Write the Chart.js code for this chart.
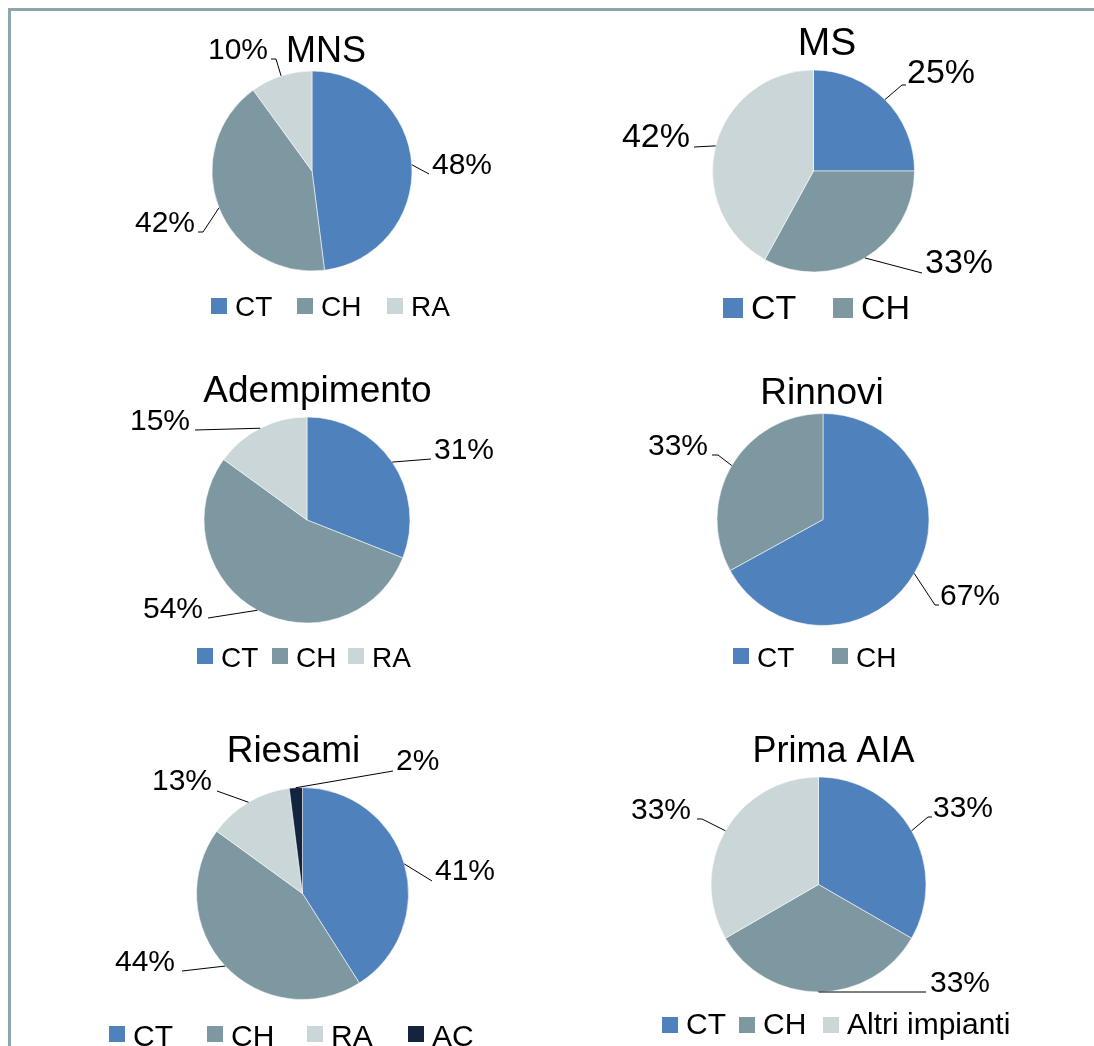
<!DOCTYPE html>
<html><head><meta charset="utf-8">
<script src="https://cdn.jsdelivr.net/npm/chart.js@4.4.0/dist/chart.umd.min.js"></script>
<style>
html,body{margin:0;padding:0;background:#fff;}
#wrap{position:relative;width:1094px;height:1046px;overflow:hidden;background:#fff;}
#frame{position:absolute;left:8px;top:8px;width:1200px;height:1200px;border-top:3px solid #8fa5ae;border-left:3px solid #8fa5ae;}
canvas{position:absolute;left:0;top:0;}
</style></head><body>
<div id="wrap"><div id="frame"></div>
<canvas id="c0" width="1094" height="1046"></canvas>
<canvas id="c1" width="1094" height="1046"></canvas>
<canvas id="c2" width="1094" height="1046"></canvas>
<canvas id="c3" width="1094" height="1046"></canvas>
<canvas id="c4" width="1094" height="1046"></canvas>
<canvas id="c5" width="1094" height="1046"></canvas>
</div>
<script>
// ---- data ----
const titles = ['MNS', 'MS', 'Adempimento', 'Rinnovi', 'Riesami', 'Prima AIA'];
const mnsLabels = ['CT', 'CH', 'RA'];
const mnsValues = [48, 42, 10];
const msLabels = ['CT', 'CH', 'RA'];
const msValues = [25, 33, 42];
const msLegendItems = ['CT', 'CH'];
const ademLabels = ['CT', 'CH', 'RA'];
const ademValues = [31, 54, 15];
const rinnLabels = ['CT', 'CH'];
const rinnValues = [67, 33];
const riesLabels = ['CT', 'CH', 'RA', 'AC'];
const riesValues = [41, 44, 13, 2];
const primaLabels = ['CT', 'CH', 'Altri impianti'];
const primaValues = [33, 33, 33];

// ---- styles ----
const COLORS = {CT: '#4f81bd', CH: '#7e98a1', RA: '#cbd6d9', AC: '#13253e', 'Altri impianti': '#cbd6d9'};
const FONT = '"Liberation Sans", Arial, sans-serif';
const W = 1094, H = 1046;

// ---- layout (positions only) ----
const layouts = [
  {labels: mnsLabels, values: mnsValues, legendItems: mnsLabels,
   cx: 312, cy: 171, r: 100, title: {x: 326, y: 62, size: 36},
   dl: {size: 30, items: [
     {x: 432, y: 174, align: 'left', path: [[429, 174]]},
     {x: 195, y: 232, align: 'right', path: [[203, 232], [198, 232]]},
     {x: 268, y: 59, align: 'right', path: [[276, 59], [271, 59]]}]},
   lg: {size: 28, box: 16, boxY: 298, textY: 316, gap: 8, xs: [211, 297, 387]}},
  {labels: msLabels, values: msValues, legendItems: msLegendItems,
   cx: 813.5, cy: 171, r: 101, title: {x: 827, y: 55, size: 39},
   dl: {size: 34, items: [
     {x: 907, y: 83, align: 'left', path: [[902, 85], [906, 85]]},
     {x: 925, y: 273, align: 'left', path: [[922, 273]]},
     {x: 690, y: 147, align: 'right', path: [[694, 147]]}]},
   lg: {size: 34, box: 20, boxY: 298, textY: 319, gap: 8, xs: [723, 833]}},
  {labels: ademLabels, values: ademValues, legendItems: ademLabels,
   cx: 307, cy: 520, r: 103, title: {x: 317.5, y: 402, size: 37},
   dl: {size: 30, items: [
     {x: 434, y: 459, align: 'left', path: [[431, 459]]},
     {x: 203, y: 618, align: 'right', path: [[208, 618]]},
     {x: 190, y: 430, align: 'right', path: [[195, 430]]}]},
   lg: {size: 28, box: 16, boxY: 648, textY: 667, gap: 8, xs: [197, 272, 348]}},
  {labels: rinnLabels, values: rinnValues, legendItems: rinnLabels,
   cx: 823, cy: 519.5, r: 106, title: {x: 822, y: 404, size: 37},
   dl: {size: 30, items: [
     {x: 940, y: 605, align: 'left', path: [[935, 605], [939, 605]]},
     {x: 708, y: 455, align: 'right', path: [[718, 455], [712, 455]]}]},
   lg: {size: 28, box: 16, boxY: 648, textY: 667, gap: 8, xs: [733, 832]}},
  {labels: riesLabels, values: riesValues, legendItems: riesLabels,
   cx: 302.5, cy: 893.5, r: 106, title: {x: 293.5, y: 762, size: 37},
   dl: {size: 30, items: [
     {x: 435, y: 880, align: 'left', path: [[432, 881]]},
     {x: 175, y: 971, align: 'right', path: [[182, 971]]},
     {x: 212, y: 790, align: 'right', path: [[217, 791]]},
     {x: 396, y: 770, align: 'left', path: [[393, 771]]}]},
   lg: {size: 30, box: 16, boxY: 1026, textY: 1046, gap: 8, xs: [109, 207, 307, 408]}},
  {labels: primaLabels, values: primaValues, legendItems: primaLabels,
   cx: 818.5, cy: 884.5, r: 107.5, title: {x: 833.5, y: 762, size: 36},
   dl: {size: 30, items: [
     {x: 933, y: 817, align: 'left', path: [[928, 817], [932, 817]]},
     {x: 930, y: 992, align: 'left', path: [[926, 992]]},
     {x: 691, y: 819, align: 'right', path: [[702, 819], [697, 819]]}]},
   lg: {size: 30, box: 16, boxY: 1017, textY: 1034, gap: 8, xs: [662, 739, 823]}}
];

const decorPlugin = {
  id: 'decor',
  afterDatasetsDraw(chart, args, opts) {
    const L = opts.layout;
    const ctx = chart.ctx;
    const meta = chart.getDatasetMeta(0);
    const vals = chart.data.datasets[0].data;
    ctx.save();
    // title
    ctx.fillStyle = '#000';
    ctx.font = L.title.size + 'px ' + FONT;
    ctx.textAlign = 'center';
    ctx.textBaseline = 'alphabetic';
    ctx.fillText(opts.title, L.title.x, L.title.y);
    // data labels with leader lines
    ctx.font = L.dl.size + 'px ' + FONT;
    meta.data.forEach((arc, i) => {
      const it = L.dl.items[i];
      if (!it) return;
      const p = arc.getProps(['x', 'y', 'startAngle', 'endAngle', 'outerRadius'], true);
      const mid = (p.startAngle + p.endAngle) / 2;
      const ex = p.x + Math.cos(mid) * p.outerRadius;
      const ey = p.y + Math.sin(mid) * p.outerRadius;
      ctx.beginPath();
      ctx.moveTo(ex, ey);
      it.path.forEach(pt => ctx.lineTo(pt[0], pt[1]));
      ctx.strokeStyle = '#000';
      ctx.lineWidth = 1;
      ctx.stroke();
      ctx.textAlign = it.align;
      ctx.fillText(vals[i] + '%', it.x, it.y);
    });
    // legend
    ctx.font = L.lg.size + 'px ' + FONT;
    ctx.textAlign = 'left';
    L.legendItems.forEach((name, i) => {
      const x = L.lg.xs[i];
      ctx.fillStyle = COLORS[name];
      ctx.fillRect(x, L.lg.boxY, L.lg.box, L.lg.box);
      ctx.fillStyle = '#000';
      ctx.fillText(name, x + L.lg.box + L.lg.gap, L.lg.textY);
    });
    ctx.restore();
  }
};

layouts.forEach((L, k) => {
  new Chart(document.getElementById('c' + k), {
    type: 'pie',
    data: {
      labels: L.labels,
      datasets: [{
        data: L.values,
        backgroundColor: L.labels.map(n => COLORS[n]),
        borderColor: 'rgba(255,255,255,0.55)',
        borderWidth: 1,
        hoverOffset: 0,
        offset: 0
      }]
    },
    options: {
      responsive: false,
      animation: false,
      events: [],
      radius: L.r,
      layout: {padding: {left: L.cx - L.r, right: W - L.cx - L.r, top: L.cy - L.r, bottom: H - L.cy - L.r}},
      plugins: {
        legend: {display: false},
        title: {display: false},
        tooltip: {enabled: false},
        decor: {layout: L, title: titles[k]}
      }
    },
    plugins: [decorPlugin]
  });
});
</script>
</body></html>
